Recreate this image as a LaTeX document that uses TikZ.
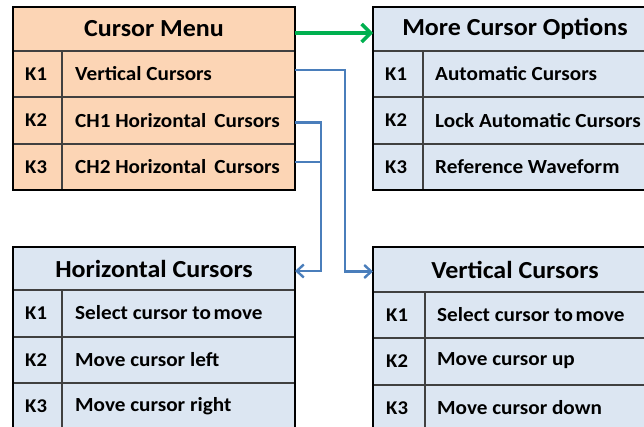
\documentclass[tikz,border=0pt]{standalone}
\usepackage{fontspec}
\setmainfont[FakeStretch=1.06]{Carlito}
\usetikzlibrary{arrows.meta}
\definecolor{peach}{HTML}{FCD5B5}
\definecolor{paleblue}{HTML}{DCE6F2}
\definecolor{arrgreen}{HTML}{00B050}
\definecolor{linkblue}{HTML}{4A7EBB}
\begin{document}
\begin{tikzpicture}[x=1pt,y=-1pt,
  cellbox/.style={draw=black!75, line width=1.3pt, inner sep=0pt, outer sep=0pt, anchor=north west},
  hdrtext/.style={font=\fontsize{24.5}{26}\selectfont\bfseries},
  keytext/.style={anchor=west, inner sep=0pt, font=\fontsize{19.5}{21}\selectfont\bfseries},
  rowtext/.style={anchor=west, inner sep=0pt, font=\fontsize{20}{22}\selectfont\bfseries},
  divline/.style={draw=black!75, line width=1.3pt},
  outerline/.style={draw=black, line width=2.4pt},
  greenarrow/.style={draw=arrgreen, line width=3.4pt, -{Straight Barb[length=9pt,width=18pt]}},
  bluelink/.style={draw=linkblue, line width=2.4pt},
  bluearrow/.style={bluelink, -{Straight Barb[length=7pt,width=13pt]}}
]
\useasboundingbox (0,0) rectangle (644,427);
\fill[white] (0,0) rectangle (644,427);
\clip (0,0) rectangle (644,427);

% ---------- Cursor Menu ----------
\node[cellbox, fill=peach, minimum width=282pt, minimum height=44pt, hdrtext] (cmh) at (13,7) {Cursor Menu};
\node[cellbox, fill=peach, minimum width=282pt, minimum height=46pt] (cm1) at (13,51) {};
\node[cellbox, fill=peach, minimum width=282pt, minimum height=47pt] (cm2) at (13,97) {};
\node[cellbox, fill=peach, minimum width=282pt, minimum height=46pt] (cm3) at (13,144) {};
\draw[divline] (62,51) -- (62,190);
\node[keytext] (cmk1) at (25,74) {K1};
\node[rowtext] (cmt1) at (75,74) {Vertical Cursors};
\node[keytext] (cmk2) at (25,120.5) {K2};
\node[rowtext] (cmt2) at (75,120.5) {CH1 Horizontal\, Cursors};
\node[keytext] (cmk3) at (25,167) {K3};
\node[rowtext] (cmt3) at (75,167) {CH2 Horizontal\, Cursors};
\draw[outerline] (13,7) rectangle (295,190);

% ---------- More Cursor Options ----------
\node[cellbox, fill=paleblue, minimum width=284pt, minimum height=44pt, hdrtext] (moh) at (373,7) {More Cursor Options};
\node[cellbox, fill=paleblue, minimum width=284pt, minimum height=46pt] (mo1) at (373,51) {};
\node[cellbox, fill=paleblue, minimum width=284pt, minimum height=47pt] (mo2) at (373,97) {};
\node[cellbox, fill=paleblue, minimum width=284pt, minimum height=46pt] (mo3) at (373,144) {};
\draw[divline] (423,51) -- (423,190);
\node[keytext] (mok1) at (385,74) {K1};
\node[rowtext] (mot1) at (435,74) {Automatic Cursors};
\node[keytext] (mok2) at (385,120.5) {K2};
\node[rowtext] (mot2) at (435,120.5) {Lock Automatic Cursors};
\node[keytext] (mok3) at (385,167) {K3};
\node[rowtext] (mot3) at (435,167) {Reference Waveform};
\draw[outerline] (373,7) rectangle (657,190);

% ---------- Horizontal Cursors ----------
\node[cellbox, fill=paleblue, minimum width=282pt, minimum height=43pt, hdrtext] (hch) at (13,247) {Horizontal Cursors};
\node[cellbox, fill=paleblue, minimum width=282pt, minimum height=47pt] (hc1) at (13,290) {};
\node[cellbox, fill=paleblue, minimum width=282pt, minimum height=46pt] (hc2) at (13,337) {};
\node[cellbox, fill=paleblue, minimum width=282pt, minimum height=47pt] (hc3) at (13,383) {};
\draw[divline] (62,290) -- (62,430);
\node[keytext] (hck1) at (25,313) {K1};
\node[rowtext] (hct1) at (75,313) {Select cursor to\hspace{2.5pt}move};
\node[keytext] (hck2) at (25,360) {K2};
\node[rowtext] (hct2) at (75,360) {Move cursor left};
\node[keytext] (hck3) at (25,406) {K3};
\node[rowtext] (hct3) at (75,406) {Move cursor right};
\draw[outerline] (13,247) rectangle (295,430);

% ---------- Vertical Cursors ----------
\node[cellbox, fill=paleblue, minimum width=284pt, minimum height=45pt, hdrtext] (vch) at (373,247) {Vertical Cursors};
\node[cellbox, fill=paleblue, minimum width=284pt, minimum height=46pt] (vc1) at (373,292) {};
\node[cellbox, fill=paleblue, minimum width=284pt, minimum height=47pt] (vc2) at (373,338) {};
\node[cellbox, fill=paleblue, minimum width=284pt, minimum height=47pt] (vc3) at (373,385) {};
\draw[divline] (425,292) -- (425,432);
\node[keytext] (vck1) at (386,315) {K1};
\node[rowtext] (vct1) at (437,315) {Select cursor to\hspace{2.5pt}move};
\node[keytext] (vck2) at (386,361) {K2};
\node[rowtext] (vct2) at (437,361) {Move cursor up};
\node[keytext] (vck3) at (386,408) {K3};
\node[rowtext] (vct3) at (437,408) {Move cursor down};
\draw[outerline] (373,247) rectangle (657,432);

% ---------- Connectors ----------
\draw[greenarrow] ([yshift=-4pt]cmh.east) -- ([yshift=-4pt]moh.west);
\draw[bluearrow] ([yshift=4pt]cm1.east) -- ++(50,0) |- ([yshift=-2pt]vch.west);
\draw[bluearrow] ([yshift=-2pt]cm2.east) -- ++(26,0) |- ([yshift=-2.5pt]hch.east);
\draw[bluelink] ([yshift=5pt]cm3.east) -- ++(26,0);
\end{tikzpicture}
\end{document}
